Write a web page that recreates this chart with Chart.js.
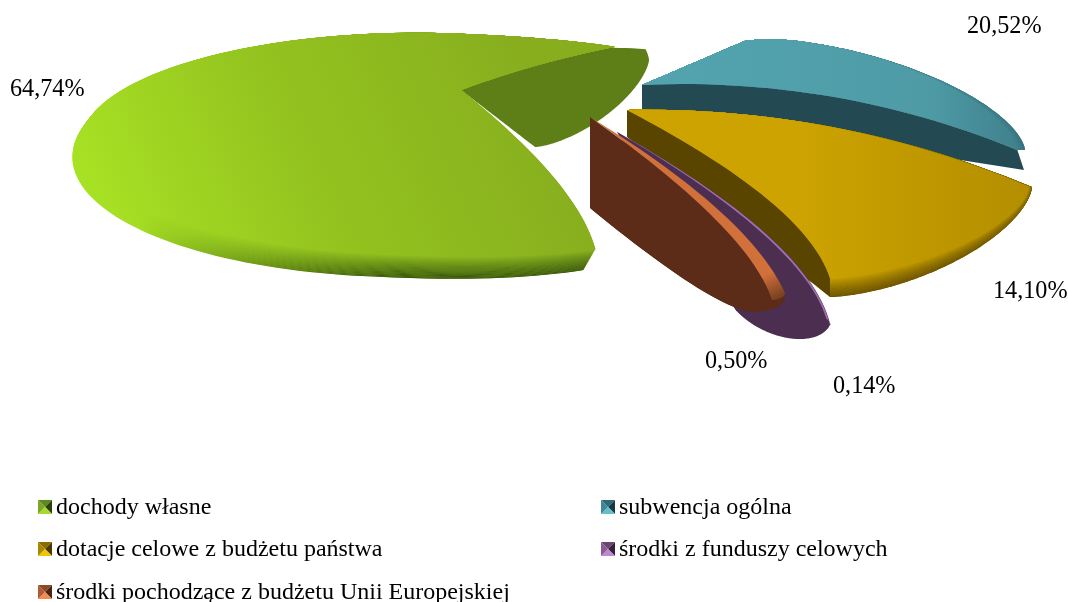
<!DOCTYPE html>
<html>
<head>
<meta charset="utf-8">
<title>Struktura dochodów</title>
<script src="https://cdn.jsdelivr.net/npm/chart.js@4"></script>
<style>
    html, body { margin: 0; padding: 0; background: #fff; }
    canvas { display: block; }
</style>
</head>
<body>
<canvas id="wykres" width="1068" height="602"></canvas>
<script>
const categories = [
    'dochody własne',
    'subwencja ogólna',
    'dotacje celowe z budżetu państwa',
    'środki z funduszy celowych',
    'środki pochodzące z budżetu Unii Europejskiej'
];
const values = [64.74, 20.52, 14.10, 0.14, 0.50];

const baseColors = ['#94c41f', '#4f9fab', '#cca300', '#a06fb0', '#d2703a'];
const wallColors = ['#5e7f18', '#234a52', '#5a4500', '#4c2e50', '#5c2c18'];
const bandColors = ['#33500c', '#2f6069', '#5a4500', '#4c2e50', '#6b3a1c'];

// legend swatch triangles: top, right, bottom, left
const swatches = [
    ['#5e8a1c', '#2c4208', '#a4dc2c', '#7aa824'],
    ['#2f6a76', '#173a42', '#62c0cc', '#3f8894'],
    ['#8a6c00', '#4a3800', '#f0c400', '#a88600'],
    ['#6a4474', '#3a2040', '#c088cc', '#865c92'],
    ['#8c4a24', '#4a2410', '#f08c50', '#b05c30']
];
const legendX = [38, 601, 38, 601, 38];
const legendY = [506, 506, 548, 548, 591];
const labelX = [10, 967, 993, 833, 705];
const labelY = [90, 27, 292, 387, 362];

// each slice has its own perspective: c/u/v place the rim, n (nl on the left half) rounds it,
// phi/k/th turn a chart angle into a rim angle, bs/be bend the radial edges, qs/qe move the bend along them
const views = [
    {
        top: { apex: [461, 90], c: [412, 155], u: [336, 16], v: [-50, 121], n: 2.6, nl: 2, phi: 56, k: 1.008, th: 0, bs: 0.14, qs: 0.7, be: 0.04 },
        notch: { apex: [461, 90], c: [535, 60], u: [114, 0], v: [0, 87], n: 1.5, phi: -12, k: 0.804, th: 233.06, bs: 0.16, be: 0 },
        bevel: { d: [8, -11], su: 1, sv: 0.91, dark: 1 }
    },
    {
        top: { apex: [642, 85], c: [770, 150], u: [255, 0], v: [0, 111], n: 1.6, phi: -99, k: 1.34, th: 233.06, bs: 0, be: 0.11 },
        low: { apex: [642, 110], c: [769, 170], u: [255, 0], v: [0, 111], n: 1.6, phi: -99, k: 1.34, th: 233.06, bs: 0, be: 0 },
        bevel: { d: [0, 0], su: 0.97, sv: 1, dark: 0.4 }
    },
    {
        top: { apex: [627, 110], c: [830, 187], u: [202, 0], v: [0, 110], n: 1.6, phi: 0, k: 1.773, th: 306.94, bs: 0.105, be: 0.16, qe: 0.75 },
        low: { apex: [627, 137], c: [830, 187], u: [202, 0], v: [0, 110], n: 1.6, phi: 0, k: 1.773, th: 306.94, bs: 0.105, be: 0 },
        bevel: { d: [0, 0], su: 0.985, sv: 0.83, dark: 1 }
    },
    {
        top: { apex: [617, 132], c: [823, 318], u: [7, 7], v: [3, 0], n: 2, phi: 0, k: 178, th: 357.7, bs: 0.17, qs: 0.75, be: 0.15, qe: 0.75 },
        low: { apex: [617, 132], c: [778, 300], u: [52, 25], v: [-15, 30], n: 2, phi: 0, k: 248, th: 357.7, bs: 0.17, qs: 0.75, be: 0 },
        fillLow: true
    },
    {
        top: { apex: [590, 117], c: [772, 293], u: [13, 0], v: [0, 7], n: 2, phi: 0, k: 50, th: 358.2, bs: 0.13, qs: 0.7, be: 0.13, qe: 0.74 },
        low: { apex: [590, 208], c: [760, 297], u: [25, 0], v: [0, 14], n: 2, phi: 0, k: 47, th: 358.2, bs: 0, be: -0.133, qe: 0.89 },
        fillLow: true
    }
];

function rimAt(f, deg) {
    const a = (f.phi + f.k * (deg - f.th)) * Math.PI / 180;
    const ca = Math.cos(a), sa = Math.sin(a);
    const n = ca < 0 && f.nl ? f.nl : f.n;
    const c = Math.sign(ca) * Math.pow(Math.abs(ca), 2 / n);
    const s = Math.sign(sa) * Math.pow(Math.abs(sa), 2 / n);
    return [f.c[0] + f.u[0] * c + f.v[0] * s, f.c[1] + f.u[1] * c + f.v[1] * s];
}

function edge(f, deg, bulge, q) {
    const p = rimAt(f, deg);
    const along = q === undefined ? 0.5 : q;
    const dx = p[0] - f.apex[0], dy = p[1] - f.apex[1];
    const cx = f.apex[0] + dx * along + bulge * dy, cy = f.apex[1] + dy * along - bulge * dx;
    const pts = [];
    for (let i = 0; i <= 30; i++) {
        const t = i / 30, m = 1 - t;
        pts.push([m * m * f.apex[0] + 2 * m * t * cx + t * t * p[0], m * m * f.apex[1] + 2 * m * t * cy + t * t * p[1]]);
    }
    return pts;
}

function outline(f, a1, a2) {
    const pts = edge(f, a1, f.bs, f.qs);
    for (let i = 1; i < 120; i++) pts.push(rimAt(f, a1 + (a2 - a1) * i / 120));
    return pts.concat(edge(f, a2, f.be, f.qe).reverse());
}

function fillPts(ctx, pts, style) {
    ctx.beginPath();
    pts.forEach((p, i) => i ? ctx.lineTo(p[0], p[1]) : ctx.moveTo(p[0], p[1]));
    ctx.closePath();
    ctx.fillStyle = style;
    ctx.fill();
}

function bevelled(f, b, t) {
    if (!b) return f;
    const su = 1 + (b.su - 1) * t, sv = 1 + (b.sv - 1) * t;
    return Object.assign({}, f, {
        c: [f.c[0] + b.d[0] * t, f.c[1] + b.d[1] * t],
        u: [f.u[0] * su, f.u[1] * su],
        v: [f.v[0] * sv, f.v[1] * sv]
    });
}

function topFill(ctx, i) {
    let g;
    if (i === 0) {
        g = ctx.createLinearGradient(100, 230, 520, 50);
        g.addColorStop(0, '#a8e224');
        g.addColorStop(0.45, '#94c41f');
        g.addColorStop(1, '#88ae1e');
    } else if (i === 1) {
        g = ctx.createLinearGradient(700, 0, 1025, 0);
        g.addColorStop(0, '#52a3ae');
        g.addColorStop(0.7, '#4e9ba6');
        g.addColorStop(1, '#3f7f8b');
    } else if (i === 2) {
        g = ctx.createLinearGradient(800, 0, 1032, 0);
        g.addColorStop(0, '#cca300');
        g.addColorStop(1, '#b38e00');
    } else if (i === 4) {
        g = ctx.createLinearGradient(765, 275, 778, 302);
        g.addColorStop(0, '#d2703a');
        g.addColorStop(1, '#6b3a1c');
    } else {
        g = baseColors[i];
    }
    return g;
}

function bandFill(ctx, i) {
    if (i !== 0) return bandColors[i];
    // the dark band of the big slice fades out towards the left
    const g = ctx.createLinearGradient(140, 0, 400, 0);
    g.addColorStop(0, 'rgba(51,80,12,0)');
    g.addColorStop(1, 'rgba(51,80,12,1)');
    return g;
}

const pie3d = {
    id: 'pie3d',
    beforeDatasetsDraw(chart) {
        const ctx = chart.ctx;
        const arcs = chart.getDatasetMeta(0).data;
        ctx.save();
        arcs.forEach((el, i) => {
            const a1 = el.startAngle * 180 / Math.PI, a2 = el.endAngle * 180 / Math.PI;
            const view = views[i];
            if (view.notch) fillPts(ctx, outline(view.notch, a2, a1 + 360), wallColors[i]);
            if (view.low && view.fillLow) fillPts(ctx, outline(view.low, a1, a2), wallColors[i]);
            const fill = topFill(ctx, i);
            const band = bandFill(ctx, i);
            if (view.bevel) {
                for (let s = 0; s <= 24; s++) {
                    const t = s / 24;
                    const pts = outline(bevelled(view.top, view.bevel, t), a1, a2);
                    fillPts(ctx, pts, fill);
                    ctx.globalAlpha = view.bevel.dark * (1 - t);
                    fillPts(ctx, pts, band);
                    ctx.globalAlpha = 1;
                }
            }
            if (view.low) {
                const topEdge = bevelled(view.top, view.bevel, 1);
                const wall = edge(topEdge, a2, topEdge.be, topEdge.qe).concat(edge(view.low, a2, view.low.be, view.low.qe).reverse());
                fillPts(ctx, wall, wallColors[i]);
            }
            fillPts(ctx, outline(bevelled(view.top, view.bevel, 1), a1, a2), fill);
        });
        ctx.restore();
        return false;
    },
    afterDraw(chart) {
        const ctx = chart.ctx;
        ctx.save();
        ctx.textBaseline = 'middle';
        ctx.textAlign = 'left';
        ctx.fillStyle = '#000';
        ctx.font = '24.2px "Liberation Serif"';
        values.forEach((v, i) => {
            ctx.fillText(v.toFixed(2).replace('.', ',') + '%', labelX[i], labelY[i]);
        });
        ctx.font = '24px "Liberation Serif"';
        categories.forEach((name, i) => {
            const x = legendX[i], y = legendY[i] - 6, s = 14, m = s / 2;
            const corners = [[x, y], [x + s, y], [x + s, y + s], [x, y + s]];
            swatches[i].forEach((color, k) => {
                fillPts(ctx, [corners[k], corners[(k + 1) % 4], [x + m, y + m]], color);
            });
            ctx.fillStyle = '#000';
            ctx.fillText(name, x + 18, legendY[i] + 2);
        });
        ctx.restore();
    }
};

new Chart(document.getElementById('wykres').getContext('2d'), {
    type: 'pie',
    data: {
        labels: categories,
        datasets: [{ data: values, backgroundColor: baseColors, borderWidth: 0 }]
    },
    options: {
        responsive: false,
        animation: false,
        rotation: 90,
        plugins: {
            legend: { display: false },
            tooltip: { enabled: false }
        }
    },
    plugins: [pie3d]
});
</script>
</body>
</html>
